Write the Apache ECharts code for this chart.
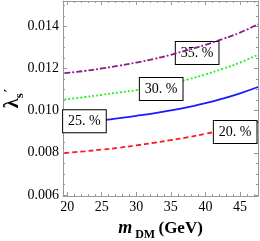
<!DOCTYPE html>
<html>
<head>
<meta charset="utf-8">
<script src="https://cdn.jsdelivr.net/npm/echarts@6/dist/echarts.min.js"></script>
<style>html,body{margin:0;padding:0;background:#fff}#c{width:260px;height:241px}</style>
</head>
<body>
<div id="c"></div>
<script>
const mDM = [19.6, 22.5, 25, 27.5, 30, 32.5, 35, 37.5, 40, 42.5, 45, 47.6];
const lam20 = [0.00799, 0.00807, 0.00815, 0.00824, 0.00835, 0.00847, 0.00860, 0.00874, 0.00890, 0.00907, 0.00925, 0.00945];
const lam25 = [0.00933, 0.00944, 0.00954, 0.00964, 0.00975, 0.00987, 0.01001, 0.01017, 0.01035, 0.01057, 0.01082, 0.01112];
const lam30 = [0.01053, 0.01064, 0.01075, 0.01086, 0.01097, 0.01111, 0.01128, 0.01148, 0.01172, 0.01198, 0.01228, 0.01265];
const lam35 = [0.01178, 0.01188, 0.01200, 0.01213, 0.01228, 0.01245, 0.01265, 0.01288, 0.01312, 0.01340, 0.01370, 0.01410];
const seriesNames = ['20. %', '25. %', '30. %', '35. %'];
const labelAt = [[44.3, 0.00899], [22.5, 0.00950], [33.6, 0.01102], [38.8, 0.01273]];
const xMajor = [20, 25, 30, 35, 40, 45];
const xMinor = [20,21,22,23,24,25,26,27,28,29,30,31,32,33,34,35,36,37,38,39,40,41,42,43,44,45,46,47];
const yMajor = [0.006, 0.008, 0.010, 0.012, 0.014];
const yMinor = [0.006,0.0065,0.007,0.0075,0.008,0.0085,0.009,0.0095,0.010,0.0105,0.011,0.0115,0.012,0.0125,0.013,0.0135,0.014,0.0145,0.015];

const XMIN = 19.4, XMAX = 47.6, YMIN = 0.00595, YMAX = 0.0152;
const frameColor = '#999';
const font = 'Liberation Serif';

function xAx(pos, vals, len, labels, line) {
  return {
    type: 'value', position: pos, min: XMIN, max: XMAX,
    axisLine: {show: line, onZero: false, lineStyle: {color: frameColor, width: 1}},
    axisTick: {show: true, inside: true, length: len, customValues: vals, lineStyle: {color: frameColor}},
    axisLabel: labels ? {show: true, customValues: xMajor, color: '#000', fontFamily: font, fontSize: 14, margin: 4} : {show: false},
    splitLine: {show: false}
  };
}
function yAx(pos, vals, len, labels, line) {
  return {
    type: 'value', position: pos, min: YMIN, max: YMAX,
    axisLine: {show: line, onZero: false, lineStyle: {color: frameColor, width: 1}},
    axisTick: {show: true, inside: true, length: len, customValues: vals, lineStyle: {color: frameColor}},
    axisLabel: labels ? {show: true, customValues: yMajor, color: '#000', fontFamily: font, fontSize: 14, margin: 4,
      formatter: v => v.toFixed(3)} : {show: false},
    splitLine: {show: false}
  };
}

const xAxes = [xAx('bottom', xMajor, 4, true, true), xAx('bottom', xMinor, 2, false, false),
               xAx('top', xMajor, 4, false, true), xAx('top', xMinor, 2, false, false)];
xAxes[0].name = '{m|m}{s| DM} {g|(GeV)}';
xAxes[0].nameLocation = 'middle';
xAxes[0].nameGap = 21;
xAxes[0].nameMoveOverlap = false;
xAxes[0].nameTextStyle = {rich: {
  m: {fontFamily: font, fontSize: 18, fontWeight: 'bold', fontStyle: 'italic', color: '#000', verticalAlign: 'bottom', lineHeight: 20},
  s: {fontFamily: font, fontSize: 12, fontWeight: 'bold', color: '#000', verticalAlign: 'bottom', lineHeight: 20, padding: [0,0,-4,0]},
  g: {fontFamily: font, fontSize: 17, fontWeight: 'bold', color: '#000', verticalAlign: 'bottom', lineHeight: 20}
}};
const yAxes = [yAx('left', yMajor, 4, true, true), yAx('left', yMinor, 2, false, false),
               yAx('right', yMajor, 4, false, true), yAx('right', yMinor, 2, false, false)];
yAxes[0].name = '{l|λ}{s|s}{p|′}';
yAxes[0].nameLocation = 'middle';
yAxes[0].nameRotate = 90;
yAxes[0].nameGap = 40;
yAxes[0].nameMoveOverlap = false;
yAxes[0].nameTextStyle = {rich: {
  l: {fontFamily: font, fontSize: 20, fontWeight: 'bold', color: '#000', verticalAlign: 'bottom', lineHeight: 24},
  s: {fontFamily: font, fontSize: 13, fontWeight: 'bold', color: '#000', verticalAlign: 'bottom', lineHeight: 24, padding: [0,0,-3,0]},
  p: {fontFamily: 'DejaVu Serif', fontSize: 13, fontWeight: 'bold', color: '#000', verticalAlign: 'bottom', lineHeight: 24, padding: [0,0,6,1]}
}};

const styles = [
  {color: '#ff1a1a', type: [5, 3]},
  {color: '#1a1aff', type: 'solid'},
  {color: '#22ee22', type: [2, 2]},
  {color: '#8b1a8b', type: [6, 2, 2, 2]}
];
const vals = [lam20, lam25, lam30, lam35];
const series = vals.map((arr, i) => ({
  type: 'line', name: seriesNames[i], smooth: true, symbol: 'none',
  data: mDM.map((m, j) => [m, arr[j]]),
  lineStyle: {color: styles[i].color, type: styles[i].type, width: 1.8},
  markPoint: {
    symbol: 'rect', symbolSize: 1, itemStyle: {color: 'transparent'},
    data: [{coord: labelAt[i], value: seriesNames[i]}],
    label: {show: true, position: 'inside', formatter: seriesNames[i], color: '#000', fontFamily: font, fontSize: 14,
      backgroundColor: '#fff', borderColor: '#000', borderWidth: 1, padding: [5, 5, 3, 5]}
  },
  z: 2 + i
}));

const chart = echarts.init(document.getElementById('c'), null, {renderer: 'canvas'});
chart.setOption({
  animation: false,
  grid: {left: 63, right: 2, top: 1, bottom: 45, outerBoundsMode: 'none', containLabel: false},
  xAxis: xAxes, yAxis: yAxes, series: series
});
</script>
</body>
</html>
